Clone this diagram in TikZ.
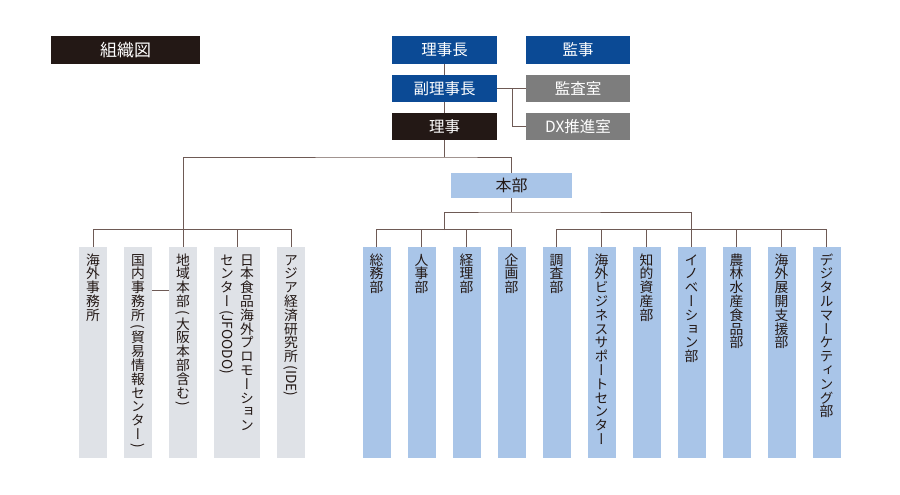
\documentclass[tikz,border=0pt]{standalone}
\usepackage{fontspec}
\newfontfamily\jpfont{Noto Sans CJK JP}
\newfontfamily\jpvert[RawFeature=+vert]{Noto Sans CJK JP}
\definecolor{sumi}{HTML}{231815}
\definecolor{kon}{HTML}{0B4A95}
\definecolor{nezumi}{HTML}{7D7D7D}
\definecolor{mizu}{HTML}{A9C5E8}
\definecolor{usuzumi}{HTML}{DFE2E7}
\definecolor{sen}{HTML}{6E5A55}
% vertical stacking of characters
\makeatletter
\def\tate@nilmark{\@nil}
\def\tate@strut{\vrule height .88em depth .12em width 0pt\relax}
\newcommand\tate[1]{\vbox{\offinterlineskip\tate@loop#1\@nil}}
\def\tate@loop#1{\def\tate@arg{#1}\ifx\tate@arg\tate@nilmark\else\hbox to 1em{\hss#1\tate@strut\hss}\expandafter\tate@loop\fi}
\newcommand\yoko[1]{\rotatebox{-90}{#1}\def\tate@strut{}}
\makeatother
\tikzset{
  topbox/.style={minimum width=105pt, minimum height=27pt, inner sep=0pt, text=white, font=\jpfont\fontsize{15.5}{16}\selectfont},
  colbox/.style={minimum width=28pt, minimum height=211pt, inner sep=0pt},
  vtext/.style={anchor=north, inner sep=0pt, text=sumi, font=\jpvert\fontsize{13.8}{14}\selectfont},
  conn/.style={draw=sen, line width=0.8pt},
}
\begin{document}
\begin{tikzpicture}[x=1pt,y=-1pt]
\useasboundingbox (0,0) rectangle (900,495);
% title and executives
\node[topbox, fill=sumi, minimum width=149pt, minimum height=28pt, font=\jpfont\fontsize{17}{18}\selectfont] (zu) at (125.5,50) {組織図};
\node[topbox, fill=kon, minimum height=28pt] (rijicho) at (444.5,50) {理事長};
\node[topbox, fill=kon, minimum height=28pt, minimum width=104pt] (kanji) at (578,50) {監事};
\node[topbox, fill=kon] (fuku) at (444.5,88.5) {副理事長};
\node[topbox, fill=nezumi, minimum width=104pt] (kansa) at (578,88.5) {監査室};
\node[topbox, fill=sumi] (riji) at (444.5,126.5) {理事};
\node[topbox, fill=nezumi, minimum width=104pt] (dx) at (578,126.5) {DX推進室};
\node[topbox, fill=mizu, minimum width=121pt, minimum height=25pt, text=sumi, font=\jpfont\fontsize{16}{17}\selectfont] (honbu) at (511.5,185.5) {本部};
% left group
\node[colbox, fill=usuzumi] (kaigai) at (93,352.5) {};
\node[vtext] (kaigai-t) at ([yshift=-6pt]kaigai.north) {\tate{海外事務所}};
\node[colbox, fill=usuzumi] (kokunai) at (138,352.5) {};
\node[vtext] (kokunai-t) at ([yshift=-6pt]kokunai.north) {\tate{国内事務所{\yoko{\kern2pt(\kern2pt}}貿易情報センター{\yoko{\kern2pt)\kern2pt}}}};
\node[colbox, fill=usuzumi] (chiiki) at (183,352.5) {};
\node[vtext] (chiiki-t) at ([yshift=-6pt]chiiki.north) {\tate{地域本部{\yoko{\kern2pt(\kern2pt}}大阪本部含む{\yoko{\kern2pt)\kern2pt}}}};
\node[colbox, fill=usuzumi, minimum width=46pt] (nihon) at (237,352.5) {};
\node[vtext] (nihon-r) at ([xshift=10pt,yshift=-6pt]nihon.north) {\tate{日本食品海外プロモーション}};
\node[vtext] (nihon-l) at ([xshift=-10pt,yshift=-6pt]nihon.north) {\tate{センター{\yoko{\kern2pt(JFOODO)\kern2pt}}}};
\node[colbox, fill=usuzumi] (ajia) at (291,352.5) {};
\node[vtext] (ajia-t) at ([yshift=-6pt]ajia.north) {\tate{アジア経済研究所{\yoko{\kern2pt(IDE)\kern2pt}}}};
% right group
\node[colbox, fill=mizu] (soumu) at (376.5,352.5) {};
\node[vtext] (soumu-t) at ([yshift=-6pt]soumu.north) {\tate{総務部}};
\node[colbox, fill=mizu] (jinji) at (421.5,352.5) {};
\node[vtext] (jinji-t) at ([yshift=-6pt]jinji.north) {\tate{人事部}};
\node[colbox, fill=mizu] (keiri) at (466.5,352.5) {};
\node[vtext] (keiri-t) at ([yshift=-6pt]keiri.north) {\tate{経理部}};
\node[colbox, fill=mizu] (kikaku) at (511.5,352.5) {};
\node[vtext] (kikaku-t) at ([yshift=-6pt]kikaku.north) {\tate{企画部}};
\node[colbox, fill=mizu] (chousa) at (556.5,352.5) {};
\node[vtext] (chousa-t) at ([yshift=-6pt]chousa.north) {\tate{調査部}};
\node[colbox, fill=mizu] (kbiz) at (601.5,352.5) {};
\node[vtext] (kbiz-t) at ([yshift=-6pt]kbiz.north) {\tate{海外ビジネスサポートセンター}};
\node[colbox, fill=mizu] (chiteki) at (646.5,352.5) {};
\node[vtext] (chiteki-t) at ([yshift=-6pt]chiteki.north) {\tate{知的資産部}};
\node[colbox, fill=mizu] (inov) at (691.5,352.5) {};
\node[vtext] (inov-t) at ([yshift=-6pt]inov.north) {\tate{イノベーション部}};
\node[colbox, fill=mizu] (nourin) at (736.5,352.5) {};
\node[vtext] (nourin-t) at ([yshift=-6pt]nourin.north) {\tate{農林水産食品部}};
\node[colbox, fill=mizu] (tenkai) at (781.5,352.5) {};
\node[vtext] (tenkai-t) at ([yshift=-6pt]tenkai.north) {\tate{海外展開支援部}};
\node[colbox, fill=mizu] (digital) at (826.5,352.5) {};
\node[vtext] (digital-t) at ([yshift=-6pt]digital.north) {\tate{デジタルマーケティング部}};
% connectors
\coordinate (sb) at (512,88.5);
\coordinate (mbus) at (444.5,157);
\coordinate (rbus) at (511.5,212);
\coordinate (g1) at (444,230);
\draw[conn] (rijicho) -- (fuku) -- (riji);
\draw[conn] (fuku) -- (kansa);
\draw[conn] (sb) |- (dx.west);
\draw[conn] (riji) -- (mbus);
\draw[conn] (chiiki.north) |- (mbus) -| (honbu.north);
\draw[conn] (kaigai.north) -- ++(0,-17) -| (ajia.north);
\draw[conn] (nihon.north) -- ++(0,-17);
\draw[conn] ([yshift=62.5pt]kokunai.east) -- ([yshift=62.5pt]chiiki.west);
\draw[conn] (honbu) -- (rbus);
\draw[conn] (soumu.north) -- ++(0,-17) -| (kikaku.north);
\draw[conn] (jinji.north) -- ++(0,-17) (keiri.north) -- ++(0,-17);
\draw[conn] (g1) |- (rbus) -| (inov.north);
\draw[conn] (chousa.north) -- ++(0,-17) -| (digital.north);
\draw[conn] (kbiz.north) -- ++(0,-17) (chiteki.north) -- ++(0,-17) (nourin.north) -- ++(0,-17) (tenkai.north) -- ++(0,-17);
\end{tikzpicture}
\end{document}
